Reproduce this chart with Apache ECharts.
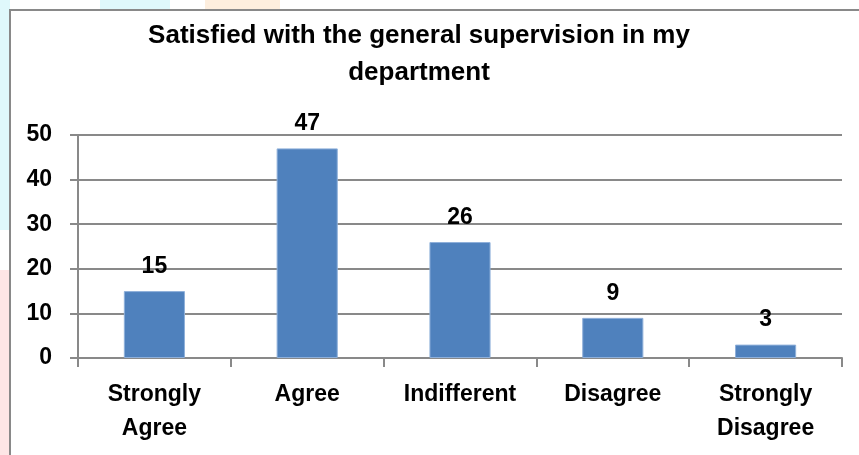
<!DOCTYPE html>
<html><head><meta charset="utf-8">
<script src="https://cdn.jsdelivr.net/npm/echarts@6/dist/echarts.min.js"></script>
<style>html,body{margin:0;padding:0;background:#fff}#c{width:859px;height:455px}</style>
</head><body><div id="c"></div>
<script>
const categories = ["Strongly\nAgree", "Agree", "Indifferent", "Disagree", "Strongly\nDisagree"];
const values = [15, 47, 26, 9, 3];
const titleText = "Satisfied with the general supervision in my\ndepartment";
const yTicks = { min: 0, max: 50, interval: 10 };

const FONT = "'Liberation Sans Narrow', 'Liberation Sans', sans-serif";
const chart = echarts.init(document.getElementById('c'), null, { renderer: 'canvas' });
chart.setOption({
  backgroundColor: '#fff',
  animation: false,
  graphic: [
    { type: 'rect', shape: { x: 0, y: 0, width: 10, height: 230 }, style: { fill: '#dff8fb' }, z: -10 },
    { type: 'rect', shape: { x: 0, y: 270, width: 10, height: 185 }, style: { fill: '#fde6e6' }, z: -10 },
    { type: 'rect', shape: { x: 100, y: 0, width: 70, height: 10 }, style: { fill: '#dff8fb' }, z: -10 },
    { type: 'rect', shape: { x: 205, y: 0, width: 75, height: 10 }, style: { fill: '#fdeede' }, z: -10 },
    { type: 'rect', shape: { x: 10, y: 10, width: 860, height: 460 }, style: { fill: '#fff', stroke: '#898989', lineWidth: 2 }, z: -5 }
  ],
  title: {
    text: titleText,
    left: 414, textAlign: 'center', top: 12,
    textStyle: { fontFamily: FONT, fontWeight: 'bold', fontSize: 26, lineHeight: 37, color: '#000' }
  },
  grid: { left: 78, right: 17, top: 135, bottom: 97 },
  xAxis: {
    type: 'category', data: categories,
    axisLine: { lineStyle: { color: '#898989', width: 2 } },
    axisTick: { show: true, length: 9, lineStyle: { color: '#898989', width: 2 } },
    axisLabel: { fontFamily: FONT, fontWeight: 'bold', fontSize: 23, color: '#000', lineHeight: 34, margin: 20, interval: 0 }
  },
  yAxis: {
    type: 'value', min: yTicks.min, max: yTicks.max, interval: yTicks.interval,
    axisLine: { show: true, lineStyle: { color: '#898989', width: 2 } },
    axisTick: { show: true, length: 8, lineStyle: { color: '#898989', width: 2 } },
    splitLine: { lineStyle: { color: '#898989', width: 2 } },
    axisLabel: { fontFamily: FONT, fontWeight: 'bold', fontSize: 23, color: '#000', margin: 26 }
  },
  series: [{
    type: 'bar', data: values, barWidth: '40%',
    itemStyle: { color: '#4F81BD', borderColor: '#8FB0DA', borderWidth: 1 },
    label: { show: true, position: 'top', distance: 13, fontFamily: FONT, fontWeight: 'bold', fontSize: 23, color: '#000' }
  }]
});
</script></body></html>
